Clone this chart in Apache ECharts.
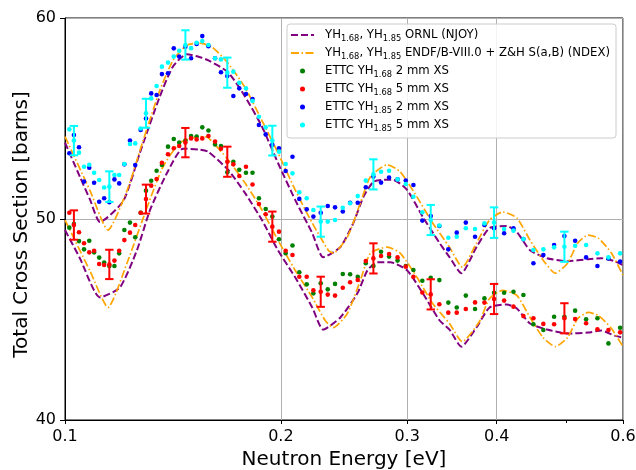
<!DOCTYPE html>
<html>
<head>
<meta charset="utf-8">
<script src="https://cdn.jsdelivr.net/npm/echarts@6/dist/echarts.min.js"></script>
<style>
  html, body { margin: 0; padding: 0; background: #ffffff; }
  #chart { width: 636px; height: 470px; }
</style>
</head>
<body>
<div id="chart"></div>
<script>
// ---- Evaluated cross sections (barns) vs. neutron energy (eV) ----
const ornl185Energy = [0.100, 0.1049, 0.1084, 0.1119, 0.1206, 0.1272, 0.1356, 0.1415, 0.1479, 0.1543, 0.1583, 0.1688, 0.1782, 0.1882, 0.1981, 0.2094, 0.2212, 0.2291, 0.2421, 0.2524, 0.2607, 0.2692, 0.2780, 0.2869, 0.2999, 0.3155, 0.3330, 0.3437, 0.3571, 0.3748, 0.3909, 0.4130, 0.4267, 0.4451, 0.4703, 0.5022, 0.5364, 0.5597, 0.5839, 0.600];
const ornl185Xs = [53.8, 52.1, 50.95, 49.85, 50.9, 53.3, 56.1, 57.6, 58.2, 58.05, 57.9, 57.3, 56.1, 54.6, 52.8, 50.95, 49.3, 48.1, 48.6, 49.8, 51.1, 51.85, 51.95, 51.95, 51.45, 50.1, 48.8, 48.1, 47.3, 48.6, 49.55, 49.65, 49.35, 48.45, 48.05, 47.9, 48.0, 48.05, 47.9, 47.7];

const ornl168Energy = [0.100, 0.1049, 0.1119, 0.1193, 0.1260, 0.1314, 0.1388, 0.1461, 0.1543, 0.1583, 0.1688, 0.1782, 0.1882, 0.1981, 0.2094, 0.2212, 0.2291, 0.2421, 0.2557, 0.2641, 0.2727, 0.2842, 0.2999, 0.3155, 0.3330, 0.3437, 0.3571, 0.3748, 0.3909, 0.4130, 0.4267, 0.4451, 0.4703, 0.5022, 0.5364, 0.5597, 0.5839, 0.600];
const ornl168Xs = [49.45, 48.05, 46.1, 46.6, 48.45, 50.45, 52.3, 53.5, 53.45, 53.35, 52.45, 51.3, 49.95, 48.45, 47.1, 45.6, 44.5, 45.1, 46.3, 47.45, 47.85, 47.85, 47.45, 46.3, 44.95, 44.5, 43.65, 44.6, 45.6, 45.75, 45.55, 44.8, 44.5, 44.3, 44.35, 44.45, 44.2, 44.1];

const ndex185Energy = [0.100, 0.1084, 0.1148, 0.1220, 0.1285, 0.1356, 0.1415, 0.1479, 0.1543, 0.1604, 0.1688, 0.1782, 0.1882, 0.1981, 0.2094, 0.2212, 0.2329, 0.2366, 0.2476, 0.2582, 0.2666, 0.2815, 0.2934, 0.3096, 0.3256, 0.3437, 0.3582, 0.3748, 0.3909, 0.4077, 0.4267, 0.4451, 0.4643, 0.4828, 0.5022, 0.5189, 0.5364, 0.5542, 0.5783, 0.600];
const ndex185Xs = [54.1, 51.4, 49.45, 51.4, 53.9, 56.4, 57.9, 58.65, 58.75, 58.55, 57.75, 56.55, 54.9, 53.3, 51.45, 49.8, 48.45, 48.3, 49.1, 50.8, 52.1, 52.7, 52.35, 51.1, 49.8, 48.6, 47.6, 48.8, 49.95, 50.35, 50.05, 48.95, 47.95, 47.3, 47.8, 48.8, 49.2, 49.05, 48.3, 47.2];

const ndex168Energy = [0.100, 0.1084, 0.1148, 0.1220, 0.1302, 0.1370, 0.1447, 0.1543, 0.1583, 0.1688, 0.1782, 0.1882, 0.1981, 0.2094, 0.2212, 0.2306, 0.2366, 0.2476, 0.2582, 0.2666, 0.2815, 0.2934, 0.3096, 0.3256, 0.3437, 0.3582, 0.3784, 0.3909, 0.4077, 0.4267, 0.4451, 0.4643, 0.4828, 0.5022, 0.5189, 0.5364, 0.5542, 0.5783, 0.600];
const ndex168Xs = [49.95, 47.4, 45.6, 47.8, 50.6, 52.6, 53.8, 54.1, 54.05, 52.95, 51.8, 50.45, 48.95, 47.45, 46.1, 44.95, 44.6, 45.3, 46.95, 48.3, 48.6, 48.3, 47.1, 45.8, 44.8, 43.9, 44.9, 46.05, 46.45, 46.2, 45.1, 44.1, 43.65, 44.1, 45.05, 45.35, 45.2, 44.55, 43.65];

// ---- ETTC measured total cross sections, shared energy bins ----
const ettcEnergy = [0.1014, 0.1029, 0.1046, 0.1063, 0.1081, 0.1098, 0.1116, 0.1134, 0.1153, 0.1172,
  0.1190, 0.1210, 0.1232, 0.1253, 0.1275, 0.1297, 0.1319, 0.1342, 0.1365, 0.1392,
  0.1418, 0.1443, 0.1472, 0.1499, 0.1526, 0.1554, 0.1585, 0.1619, 0.1650, 0.1684,
  0.1717, 0.1750, 0.1788, 0.1826, 0.1864, 0.1905, 0.1946, 0.1988, 0.2031, 0.2076,
  0.2122, 0.2173, 0.2220, 0.2273, 0.2325, 0.2380, 0.2440, 0.2498, 0.2560, 0.2627,
  0.2692, 0.2759, 0.2831, 0.2909, 0.2987, 0.3061, 0.3150, 0.3236, 0.3327, 0.3424,
  0.3518, 0.3622, 0.3731, 0.3845, 0.3966, 0.4096, 0.4221, 0.4358, 0.4500, 0.4646,
  0.4809, 0.4971, 0.5145, 0.5330, 0.5527, 0.5726, 0.5945];

const ettc168_2mm = [49.57, 49.75, 48.90, 48.49, 48.92, 48.34, 48.08, 47.83, 47.66, 47.66,
  48.29, 49.45, 49.82, 49.09, 50.31, 51.41, 51.90, 52.40, 52.69, 53.60,
  53.98, 53.80, 53.90, 54.13, 54.10, 54.56, 54.40, 53.71, 53.63, 52.32,
  52.85, 52.45, 52.30, 52.30, 51.03, 50.50, 50.12, 48.99, 48.30, 48.68,
  47.35, 46.75, 46.30, 46.80, 46.50, 46.77, 47.26, 47.25, 47.13, 47.80,
  47.66, 48.37, 48.13, 47.93, 47.66, 47.46, 46.93, 47.08, 46.96, 45.84,
  45.60, 46.19, 45.52, 46.05, 46.33, 46.33, 46.38, 46.22, 44.76, 44.48,
  45.14, 45.14, 45.44, 45.01, 45.06, 43.81, 44.59];

const ettc168_5mm = [50.31, 49.70, 49.34, 48.79, 48.34, 48.42, 47.76, 47.71, 47.74, 47.93,
  48.42, 48.95, 49.32, 49.70, 50.31, 50.99, 51.66, 51.99, 52.80, 53.22,
  53.52, 53.63, 53.80, 54.01, 53.96, 54.01, 54.13, 53.85, 53.50, 52.85,
  52.72, 52.14, 52.60, 51.72, 50.75, 50.24, 49.62, 49.37, 48.42, 48.21,
  47.13, 47.13, 46.45, 46.38, 46.24, 46.19, 46.58, 46.85, 46.97, 47.91,
  48.04, 48.16, 48.26, 48.09, 47.63, 47.13, 46.34, 46.25, 45.76, 45.34,
  45.34, 45.52, 45.85, 45.84, 46.02, 45.94, 45.64, 45.17, 45.06, 44.78,
  44.76, 45.06, 45.02, 44.81, 44.51, 44.48, 44.36];

const ettc185_2mm = [53.27, 54.18, 53.57, 51.86, 52.55, 51.80, 50.86, 51.03, 50.83, 51.97,
  51.77, 52.72, 53.90, 52.69, 54.43, 55.00, 56.25, 56.17, 57.21, 57.25,
  58.49, 58.08, 58.57, 58.00, 58.71, 59.10, 58.60, 58.00, 57.30, 57.11,
  56.12, 56.50, 56.22, 55.97, 54.68, 54.21, 53.70, 53.52, 52.39, 53.10,
  51.00, 50.48, 50.12, 50.31, 50.65, 50.58, 50.37, 50.81, 50.81, 51.58,
  52.11, 51.81, 52.06, 51.97, 51.91, 51.69, 49.92, 50.15, 49.65, 48.49,
  49.32, 49.82, 49.12, 49.70, 49.54, 49.29, 49.54, 49.00, 47.80, 48.21,
  48.71, 49.15, 48.92, 48.09, 47.66, 48.04, 47.88];

const ettc185_5mm = [54.46, 53.90, 53.30, 52.60, 52.70, 52.30, 51.94, 51.57, 51.61, 52.19,
  52.19, 52.74, 53.73, 53.76, 54.50, 55.26, 56.00, 56.62, 57.58, 57.78,
  58.08, 58.37, 58.66, 58.50, 58.77, 58.85, 58.66, 58.00, 57.94, 57.28,
  57.33, 56.78, 56.50, 55.87, 55.09, 54.56, 53.90, 53.35, 52.74, 52.27,
  51.33, 51.03, 50.45, 49.87, 49.87, 49.95, 50.56, 50.78, 51.14, 51.91,
  52.22, 52.35, 52.40, 51.97, 51.74, 51.11, 50.33, 49.95, 49.68, 49.07,
  49.12, 49.54, 49.50, 49.78, 49.82, 49.50, 49.42, 49.00, 48.46, 48.49,
  48.59, 48.62, 48.67, 48.71, 48.29, 48.09, 48.29];

// Bins carrying a 1-sigma uncertainty bar (indices into ettcEnergy), 5 mm samples
const errorBins = [1, 8, 15, 22, 29, 36, 43, 50, 57, 64, 71];
const sigma168_5mm = [0.73, 0.73, 0.72, 0.73, 0.75, 0.75, 0.75, 0.75, 0.75, 0.75, 0.75];
const sigma185_5mm = [0.73, 0.76, 0.72, 0.73, 0.75, 0.74, 0.75, 0.75, 0.75, 0.76, 0.75];

// Axis ticks
const xTickLabels = [0.1, 0.2, 0.3, 0.4, 0.6];
const xMinorTicks = [0.5];
const yTicks = [40, 50, 60];

const FONT = 'DejaVu Sans';
const lg = Math.log10;

const pairs = (xs, ys) => xs.map((e, i) => [lg(e), ys[i]]);
const errPoints = (ys, sig) => errorBins.map((k, j) => [lg(ettcEnergy[k]), ys[k], sig[j]]);

const NAME_ORNL = 'YH1.68, YH1.85 ORNL (NJOY)';
const NAME_NDEX = 'YH1.68, YH1.85 ENDF/B-VIII.0 + Z&H S(a,B) (NDEX)';
const NAME_G = 'ETTC YH1.68 2 mm XS';
const NAME_R = 'ETTC YH1.68 5 mm XS';
const NAME_B = 'ETTC YH1.85 2 mm XS';
const NAME_C = 'ETTC YH1.85 5 mm XS';

const legendRich = {
  [NAME_ORNL]: '{sp|}{t|YH}{s|1.68}{t|, YH}{s|1.85}{t| ORNL (NJOY)}',
  [NAME_NDEX]: '{sp|}{t|YH}{s|1.68}{t|, YH}{s|1.85}{t| ENDF/B-VIII.0 + Z&H S(a,B) (NDEX)}',
  [NAME_G]: '{sp|}{t|ETTC YH}{s|1.68}{t| 2 mm XS}',
  [NAME_R]: '{sp|}{t|ETTC YH}{s|1.68}{t| 5 mm XS}',
  [NAME_B]: '{sp|}{t|ETTC YH}{s|1.85}{t| 2 mm XS}',
  [NAME_C]: '{sp|}{t|ETTC YH}{s|1.85}{t| 5 mm XS}'
};

function lineSeries(name, xs, ys, color, dash, width) {
  return {
    name, type: 'line', data: pairs(xs, ys),
    symbol: 'none', smooth: 0.2, z: 2,
    lineStyle: { color, width, type: dash },
    itemStyle: { color }
  };
}

function scatterSeries(name, ys, color) {
  return {
    name, type: 'scatter', data: pairs(ettcEnergy, ys),
    symbol: 'circle', symbolSize: 4.6, z: 3,
    itemStyle: { color, opacity: 1 }
  };
}

function errorSeries(name, ys, sig, color) {
  return {
    name, type: 'custom', z: 4,
    data: errPoints(ys, sig),
    encode: { x: 0, y: 1 },
    renderItem(params, api) {
      const x = api.value(0), y = api.value(1), e = api.value(2);
      const top = api.coord([x, y + e]);
      const bot = api.coord([x, y - e]);
      const hw = 4.2;
      const style = { stroke: color, lineWidth: 2 };
      return {
        type: 'group',
        children: [
          { type: 'line', shape: { x1: top[0], y1: top[1], x2: bot[0], y2: bot[1] }, style },
          { type: 'line', shape: { x1: top[0] - hw, y1: top[1], x2: top[0] + hw, y2: top[1] }, style },
          { type: 'line', shape: { x1: bot[0] - hw, y1: bot[1], x2: bot[0] + hw, y2: bot[1] }, style }
        ]
      };
    }
  };
}

const chart = echarts.init(document.getElementById('chart'), null, { renderer: 'canvas' });

const xMin = lg(0.1), xMax = lg(0.6);

chart.setOption({
  animation: false,
  backgroundColor: '#ffffff',
  textStyle: { fontFamily: FONT },
  grid: {
    left: 65, right: 13, top: 18, bottom: 50,
    containLabel: false,
    outerBoundsMode: 'none',
    show: true, borderColor: '#000000', borderWidth: 1, backgroundColor: 'transparent'
  },
  legend: {
    orient: 'vertical',
    left: 287, top: 24,
    padding: [5, 6, 5, 3],
    itemGap: 4,
    itemWidth: 23, itemHeight: 5,
    backgroundColor: 'rgba(255,255,255,0.85)',
    borderColor: '#cccccc', borderWidth: 1, borderRadius: 3,
    data: [
      { name: NAME_ORNL, itemStyle: { opacity: 0 } },
      { name: NAME_NDEX, itemStyle: { opacity: 0 } },
      NAME_G, NAME_R, NAME_B, NAME_C
    ],
    formatter: (n) => legendRich[n],
    textStyle: {
      fontFamily: FONT, color: '#000',
      rich: {
        sp: { width: 6, lineHeight: 16 },
        t: { fontFamily: FONT, fontSize: 11.7, color: '#000', lineHeight: 16 },
        s: { fontFamily: FONT, fontSize: 8.3, color: '#000', lineHeight: 8, verticalAlign: 'bottom' }
      }
    }
  },
  xAxis: [{
    type: 'value', min: xMin, max: xMax,
    axisLine: { show: true, onZero: false, lineStyle: { color: '#000', width: 1 } },
    axisTick: { show: true, customValues: xTickLabels.map(lg), length: 4, lineStyle: { color: '#000', width: 1 } },
    axisLabel: {
      customValues: xTickLabels.map(lg),
      formatter: (v) => (Math.round(Math.pow(10, v) * 10) / 10).toFixed(1),
      fontFamily: FONT, fontSize: 16, color: '#000', margin: 9
    },
    splitLine: { show: true, lineStyle: { color: '#b0b0b0', width: 1 } },
    name: 'Neutron Energy [eV]', nameLocation: 'middle', nameGap: 30,
    nameTextStyle: { fontFamily: FONT, fontSize: 20, color: '#000' }
  }, {
    type: 'value', min: xMin, max: xMax, position: 'bottom',
    axisLine: { show: false },
    axisTick: { show: true, customValues: xMinorTicks.map(lg), length: 3, lineStyle: { color: '#000', width: 1 } },
    axisLabel: { show: false },
    splitLine: { show: false }
  }],
  yAxis: {
    type: 'value', min: yTicks[0], max: yTicks[yTicks.length - 1], interval: 10,
    axisLine: { show: true, onZero: false, lineStyle: { color: '#000', width: 1 } },
    axisTick: { show: true, length: 5, lineStyle: { color: '#000', width: 1 } },
    axisLabel: { fontFamily: FONT, fontSize: 16, color: '#000', margin: 9 },
    splitLine: { show: true, lineStyle: { color: '#b0b0b0', width: 1 } },
    name: 'Total Cross Section [barns]', nameLocation: 'middle', nameGap: 33,
    nameMoveOverlap: false,
    nameTextStyle: { fontFamily: FONT, fontSize: 20, color: '#000', padding: [0, 11, 0, 0] }
  },
  series: [
    lineSeries(NAME_ORNL, ornl168Energy, ornl168Xs, '#800080', [7, 3], 2),
    lineSeries(NAME_ORNL, ornl185Energy, ornl185Xs, '#800080', [7, 3], 2),
    lineSeries(NAME_NDEX, ndex168Energy, ndex168Xs, '#ffa500', [8, 2.5, 1.5, 2.5], 1.7),
    lineSeries(NAME_NDEX, ndex185Energy, ndex185Xs, '#ffa500', [8, 2.5, 1.5, 2.5], 1.7),
    scatterSeries(NAME_G, ettc168_2mm, '#008000'),
    scatterSeries(NAME_R, ettc168_5mm, '#ff0000'),
    scatterSeries(NAME_B, ettc185_2mm, '#0000ff'),
    scatterSeries(NAME_C, ettc185_5mm, '#00ffff'),
    errorSeries(NAME_R, ettc168_5mm, sigma168_5mm, '#ff0000'),
    errorSeries(NAME_C, ettc185_5mm, sigma185_5mm, '#00ffff')
  ]
});
</script>
</body>
</html>
